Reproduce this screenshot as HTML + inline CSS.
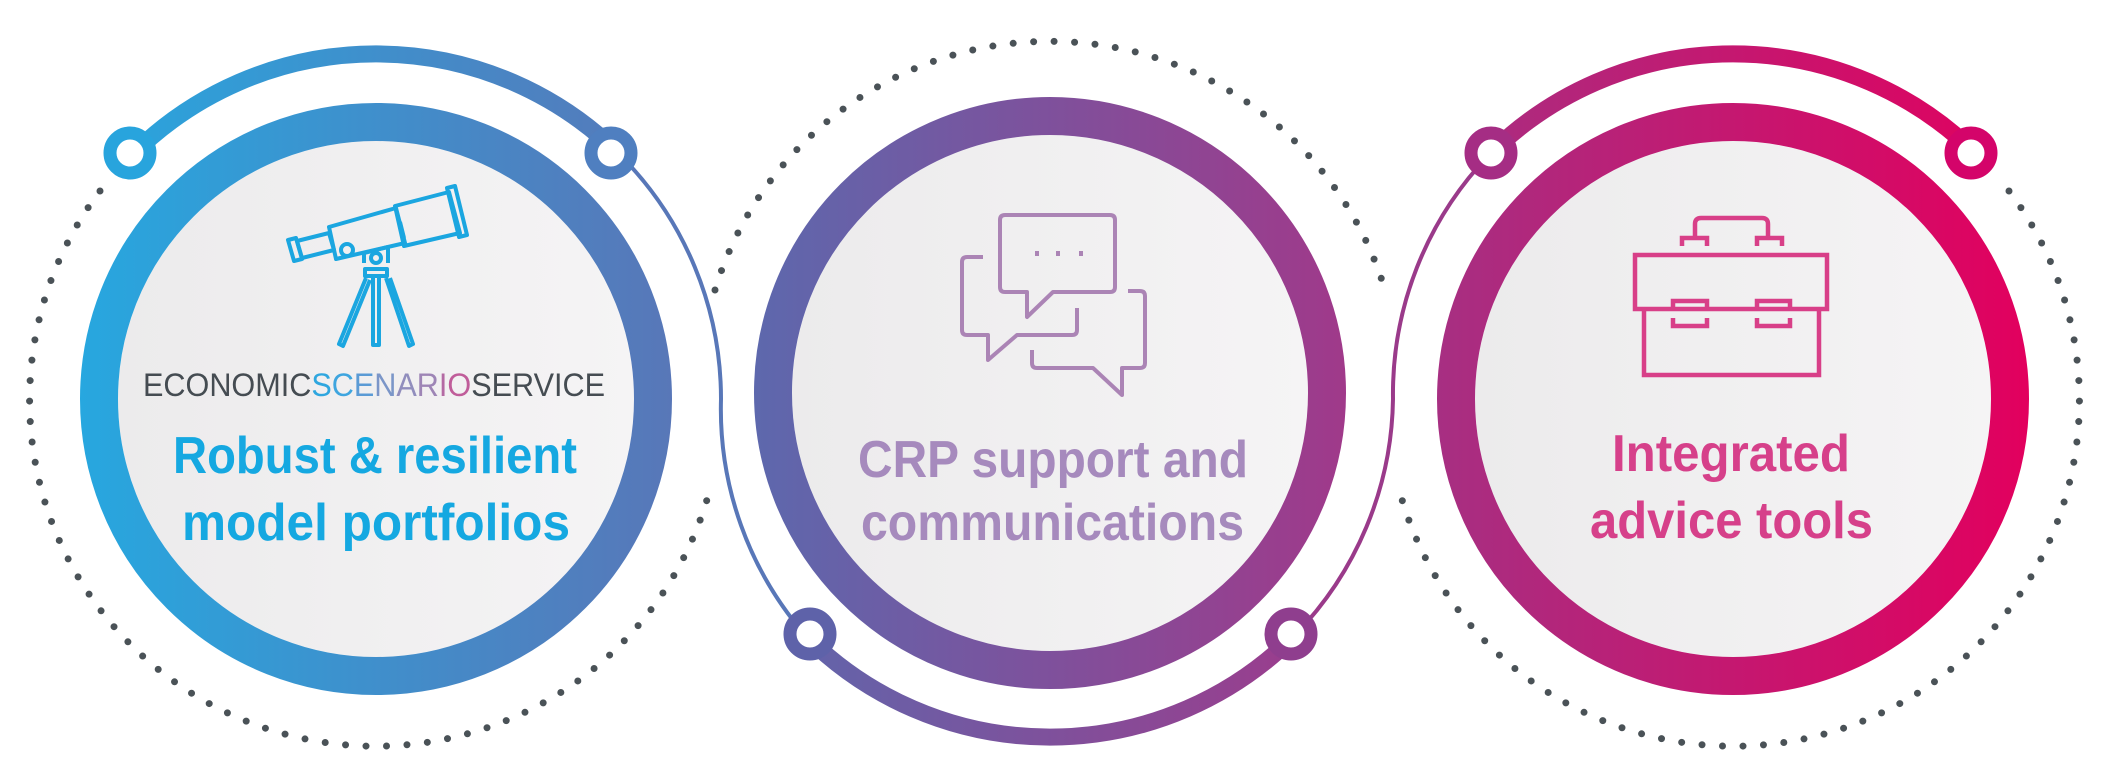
<!DOCTYPE html>
<html><head><meta charset="utf-8"><style>
html,body{margin:0;padding:0;background:#fff;}
svg{display:block;}
text{font-family:"Liberation Sans",sans-serif;}
</style></head><body>
<svg width="2109" height="778" viewBox="0 0 2109 778" xmlns="http://www.w3.org/2000/svg">
<defs>
<linearGradient id="g1" gradientUnits="userSpaceOnUse" x1="81" y1="0" x2="672" y2="0"><stop offset="0" stop-color="#27a7df"/><stop offset="1" stop-color="#5877b8"/></linearGradient>
<linearGradient id="g2" gradientUnits="userSpaceOnUse" x1="754" y1="0" x2="1346" y2="0"><stop offset="0" stop-color="#5d68ad"/><stop offset="1" stop-color="#a0398a"/></linearGradient>
<linearGradient id="g3" gradientUnits="userSpaceOnUse" x1="1438" y1="0" x2="2028" y2="0"><stop offset="0" stop-color="#a72f82"/><stop offset="1" stop-color="#e2005e"/></linearGradient>
<linearGradient id="gd" x1="0" y1="0" x2="1" y2="0"><stop offset="0" stop-color="#ecebec"/><stop offset="1" stop-color="#f5f4f5"/></linearGradient>
</defs>

<!-- dotted arcs -->
<g fill="none" stroke="#4a5257" stroke-width="7" stroke-linecap="round" stroke-dasharray="0 20.5">
<path d="M100,191 A346,346 0 1 0 710,489"/>
<path d="M715,290 A350,350 0 0 1 1385,290"/>
<path d="M2009,191 A346,346 0 1 1 1399,489"/>
</g>

<!-- thin connectors -->
<path d="M620,155 A345,345 0 0 1 721,399 A345,345 0 0 0 806,636" fill="none" stroke="#5877b8" stroke-width="4"/>
<path d="M1294,636 A345,345 0 0 0 1393,399 A345,345 0 0 1 1489,155" fill="none" stroke="#9a3a8a" stroke-width="4"/>

<!-- thick outer arcs -->
<path d="M132,155 A345,345 0 0 1 620,155" fill="none" stroke="url(#g1)" stroke-width="17"/>
<path d="M806,636 A345,345 0 0 0 1294,636" fill="none" stroke="url(#g2)" stroke-width="17"/>
<path d="M1489,155 A345,345 0 0 1 1977,155" fill="none" stroke="url(#g3)" stroke-width="17"/>

<!-- nodes -->
<g fill="#fff" stroke-width="13">
<circle cx="130" cy="153" r="20" stroke="#28a4dd"/>
<circle cx="611" cy="153" r="20" stroke="#4f7fc0"/>
<circle cx="810" cy="634" r="20" stroke="#5e62a9"/>
<circle cx="1291" cy="634" r="20" stroke="#8f3e8e"/>
<circle cx="1491" cy="153" r="20" stroke="#a52d84"/>
<circle cx="1971" cy="153" r="20" stroke="#d4046a"/>
</g>

<!-- main rings -->
<circle cx="376" cy="399" r="258" fill="url(#gd)"/>
<circle cx="376" cy="399" r="277" fill="none" stroke="url(#g1)" stroke-width="38"/>
<circle cx="1050" cy="393" r="258" fill="url(#gd)"/>
<circle cx="1050" cy="393" r="277" fill="none" stroke="url(#g2)" stroke-width="38"/>
<circle cx="1733" cy="399" r="258" fill="url(#gd)"/>
<circle cx="1733" cy="399" r="277" fill="none" stroke="url(#g3)" stroke-width="38"/>

<!-- telescope -->
<g fill="none" stroke="#1ba6e0" stroke-width="4" stroke-linejoin="round">
<polygon points="288,240 296,238 302,259 294,261"/>
<polygon points="297,241 329,233 334,250 302,258"/>
<polygon points="329,227 396,208 405,243 336,259"/>
<polygon points="395,206 449,192 460,233 404,246"/>
<polygon points="447,188 455,186 467,235 459,237"/>
<line x1="400" y1="222" x2="404" y2="238"/>
<circle cx="347" cy="250" r="6" fill="#f0eff0"/>
<path d="M364,263 V253 L388,247 V263"/>
<circle cx="376" cy="258" r="5"/>
<rect x="365" y="269" width="22" height="7"/>
<path d="M366,278 L339,344 L343,346 L370,280"/>
<path d="M373,278 V345 H379 V278"/>
<path d="M386,278 L409,346 L413,344 L390,278"/>
</g>

<!-- chat icon -->
<g fill="none" stroke="#ab84b5" stroke-width="4" stroke-linejoin="round">
<path d="M983,257 H967 Q962,257 962,262 V330 Q962,335 967,335 H988 V360 L1017,335 H1072 Q1077,335 1077,330 V308"/>
<path d="M1128,291 H1140 Q1145,291 1145,296 V363 Q1145,368 1140,368 H1122 V395 L1093,368 H1037 Q1032,368 1032,363 V350"/>
<path d="M1005,215 H1110 Q1115,215 1115,220 V287 Q1115,292 1110,292 H1053 L1027,317 V292 H1005 Q1000,292 1000,287 V220 Q1000,215 1005,215 Z"/>
<g stroke-width="4"><line x1="1037" y1="251" x2="1037" y2="256"/><line x1="1058" y1="251" x2="1058" y2="256"/><line x1="1081" y1="251" x2="1081" y2="256"/></g>
</g>

<!-- briefcase -->
<g fill="none" stroke="#d83f88" stroke-width="4.5">
<path d="M1695,238 V224 Q1695,218 1701,218 H1762 Q1768,218 1768,224 V238"/>
<path d="M1682,246 V238 H1707 V246"/>
<path d="M1757,246 V238 H1782 V246"/>
<rect x="1635" y="255" width="192" height="54"/>
<path d="M1644,307 V375 H1819 V307"/>
<path d="M1673,309 V301 H1707 V309"/>
<path d="M1673,318 V326 H1707 V318"/>
<path d="M1757,309 V301 H1790 V309"/>
<path d="M1757,318 V326 H1790 V318"/>
</g>

<!-- text -->
<text x="143" y="396" font-size="32" textLength="462" lengthAdjust="spacingAndGlyphs" fill="#454c52"><tspan>ECONOMIC</tspan><tspan fill="#2fa6df">S</tspan><tspan fill="#3ea5df">C</tspan><tspan fill="#5b9bd5">E</tspan><tspan fill="#7b96c8">N</tspan><tspan fill="#918ebd">A</tspan><tspan fill="#9e85b6">R</tspan><tspan fill="#b46aa4">I</tspan><tspan fill="#c05d9a">O</tspan><tspan>SERVICE</tspan></text>
<g font-weight="bold" font-size="52">
<text x="173" y="473" textLength="404" lengthAdjust="spacingAndGlyphs" fill="#15a8e1">Robust &amp; resilient</text>
<text x="182" y="540" textLength="388" lengthAdjust="spacingAndGlyphs" fill="#15a8e1">model portfolios</text>
<text x="858" y="477" textLength="390" lengthAdjust="spacingAndGlyphs" fill="#a68abd">CRP support and</text>
<text x="861" y="540" textLength="383" lengthAdjust="spacingAndGlyphs" fill="#a68abd">communications</text>
<text x="1612" y="471" textLength="238" lengthAdjust="spacingAndGlyphs" fill="#d6408a">Integrated</text>
<text x="1590" y="538" textLength="283" lengthAdjust="spacingAndGlyphs" fill="#d6408a">advice tools</text>
</g>
</svg>
</body></html>
